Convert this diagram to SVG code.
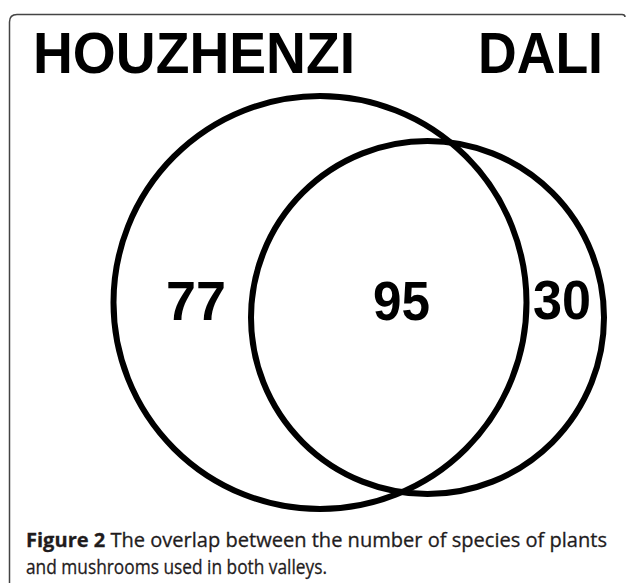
<svg xmlns="http://www.w3.org/2000/svg" width="627" height="583" viewBox="0 0 627 583">
<style>
.lbl{font-family:"Liberation Sans",Arial,sans-serif;font-weight:bold;fill:#000}
.ring{fill:none;stroke:#000;stroke-width:6}
.cap{font-family:"Open Sans","Noto Sans",sans-serif;font-size:20px;fill:#1f1c1d;stroke:#1f1c1d;stroke-width:0.3}
</style>
<rect width="627" height="583" fill="#fff"/>
<path d="M9.5 583 V22 Q9.5 14.5 17 14.5 H622 Q625 14.5 625 17" fill="none" stroke="#444" stroke-width="1.5"/>
<g id="houzhenzi">
<circle class="ring" cx="320" cy="302.5" r="206.5"/>
<text class="lbl" x="33" y="73" font-size="57" textLength="322" lengthAdjust="spacingAndGlyphs">HOUZHENZI</text>
</g>
<g id="dali">
<circle class="ring" cx="427.5" cy="317.5" r="176.5"/>
<text class="lbl" x="478" y="73" font-size="57" textLength="125" lengthAdjust="spacingAndGlyphs">DALI</text>
</g>
<g id="counts">
<text class="lbl" x="166" y="320" font-size="56" textLength="60" lengthAdjust="spacingAndGlyphs">77</text>
<text class="lbl" x="373" y="320" font-size="56" textLength="57" lengthAdjust="spacingAndGlyphs">95</text>
<text class="lbl" x="533" y="319" font-size="56" textLength="58" lengthAdjust="spacingAndGlyphs">30</text>
</g>
<g id="connectors"></g>
<g id="caption">
<text class="cap" x="26" y="547" textLength="581" lengthAdjust="spacingAndGlyphs"><tspan font-weight="bold">Figure 2</tspan> The overlap between the number of species of plants</text>
<text class="cap" x="26" y="574" textLength="301" lengthAdjust="spacingAndGlyphs">and mushrooms used in both valleys.</text>
</g>
</svg>
